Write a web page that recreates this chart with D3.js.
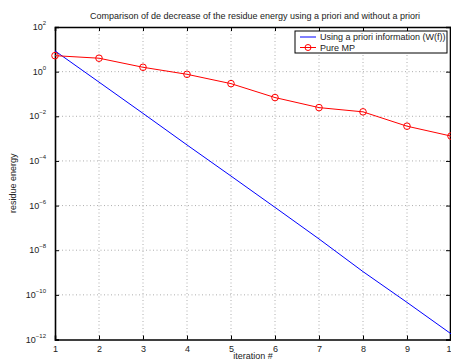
<!DOCTYPE html>
<html>
<head>
<meta charset="utf-8">
<script src="https://cdn.jsdelivr.net/npm/d3@7"></script>
<style>
  body { margin: 0; background: #fff; }
  svg { font-family: "Liberation Sans", Arial, sans-serif; }
  .grid line { stroke: #999; stroke-width: 0.8; stroke-dasharray: 1,2.5; }
</style>
</head>
<body>
<svg id="chart" width="451" height="361"></svg>
<script>
// iterations and read-off values (log axis)
const iterations = [1, 2, 3, 4, 5, 6, 7, 8, 9, 10];
const aprioriEnergy = [8.5, 0.34, 0.0135, 5.2e-4, 2.1e-5, 8.3e-7, 3.2e-8, 1.1e-9, 4.6e-11, 1.8e-12];
const pureMPEnergy = [5.2, 4.0, 1.57, 0.76, 0.29, 0.069, 0.0245, 0.0158, 0.0036, 0.0013];
const yTickExps = [2, 0, -2, -4, -6, -8, -10, -12];
const seriesNames = ["Using a priori information (W(f))", "Pure MP"];

const svg = d3.select("#chart");
const mLeft = 55, mRight = 451, mTop = 27, mBottom = 339.5;

const x = d3.scaleLinear().domain([1, 10]).range([mLeft, mRight]);
const y = d3.scaleLog().domain([1e-12, 1e2]).range([mBottom, mTop]);

// grid
let grid = svg.append("g").attr("class", "grid");
grid.selectAll(".gx").data(iterations.slice(1, -1)).enter().append("line")
    .attr("x1", d => x(d)).attr("x2", d => x(d))
    .attr("y1", mTop).attr("y2", mBottom);
grid.selectAll(".gy").data(yTickExps.slice(1, -1)).enter().append("line")
    .attr("y1", d => y(Math.pow(10, d))).attr("y2", d => y(Math.pow(10, d)))
    .attr("x1", mLeft).attr("x2", mRight);

// axes (MATLAB style box, inward ticks)
let xAxis = d3.axisBottom(x).tickValues(iterations).tickSize(-4).tickPadding(6).tickFormat(d3.format("d"));
let gx = svg.append("g").attr("transform", `translate(0,${mBottom})`).call(xAxis);
svg.append("g").attr("transform", `translate(0,${mTop})`)
    .call(d3.axisTop(x).tickValues(iterations).tickSize(-4).tickFormat(""));

let yAxis = d3.axisLeft(y).tickValues(yTickExps.map(e => Math.pow(10, e))).tickSize(-4).tickFormat("");
let gy = svg.append("g").attr("transform", `translate(${mLeft},0)`).call(yAxis);
svg.append("g").attr("transform", `translate(${mRight - 1},0)`)
    .call(d3.axisRight(y).tickValues(yTickExps.map(e => Math.pow(10, e))).tickSize(-4).tickFormat(""));

svg.selectAll(".domain").attr("stroke", "#000").attr("stroke-width", 1.6);
svg.selectAll(".tick line").attr("stroke", "#000").attr("stroke-width", 1);
gx.selectAll(".tick text").attr("font-size", 9).attr("fill", "#222");

// y tick labels as 10^n
let ylab = svg.append("g").attr("font-size", 9).attr("fill", "#222");
yTickExps.forEach(e => {
    let t = ylab.append("text")
        .attr("x", 46).attr("y", y(Math.pow(10, e)) + 3)
        .attr("text-anchor", "end");
    t.append("tspan").text("10");
    t.append("tspan").attr("dy", -5).attr("font-size", 6).text(e === 0 ? "0" : (e > 0 ? e : "\u2212" + (-e)));
});

// lines
let line = d3.line().x((d, i) => x(iterations[i])).y(d => y(d));
svg.append("path").datum(aprioriEnergy)
    .attr("fill", "none").attr("stroke", "#0000ff").attr("stroke-width", 1).attr("d", line);
svg.append("path").datum(pureMPEnergy)
    .attr("fill", "none").attr("stroke", "#ff0000").attr("stroke-width", 1).attr("d", line);
svg.selectAll(".mk").data(pureMPEnergy).enter().append("circle")
    .attr("cx", (d, i) => x(iterations[i])).attr("cy", d => y(d)).attr("r", 3.3)
    .attr("fill", "none").attr("stroke", "#ff0000").attr("stroke-width", 1);

// title and labels
svg.append("text").attr("x", 255).attr("y", 19).attr("text-anchor", "middle")
    .attr("font-size", 9).attr("fill", "#222")
    .text("Comparison of de decrease of the residue energy using a priori and without a priori");
svg.append("text").attr("x", 253).attr("y", 359).attr("text-anchor", "middle")
    .attr("font-size", 9).attr("fill", "#222").text("iteration #");
svg.append("text").attr("transform", `translate(16,${(mTop + mBottom) / 2}) rotate(-90)`)
    .attr("text-anchor", "middle").attr("font-size", 9).attr("fill", "#222").text("residue energy");

// legend
let lg = svg.append("g");
lg.append("rect").attr("x", 295).attr("y", 31).attr("width", 152).attr("height", 22)
    .attr("fill", "#fff").attr("stroke", "#000").attr("stroke-width", 1);
const legendColors = ["#0000ff", "#ff0000"];
seriesNames.forEach((name, i) => {
    let ly = 37 + i * 10.5;
    lg.append("line").attr("x1", 300).attr("x2", 316).attr("y1", ly).attr("y2", ly)
        .attr("stroke", legendColors[i]).attr("stroke-width", 1);
    if (i === 1) lg.append("circle").attr("cx", 308).attr("cy", ly).attr("r", 3)
        .attr("fill", "none").attr("stroke", legendColors[i]);
    lg.append("text").attr("x", 320).attr("y", ly + 3).attr("font-size", 9).attr("fill", "#222").text(name);
});
</script>
</body>
</html>
